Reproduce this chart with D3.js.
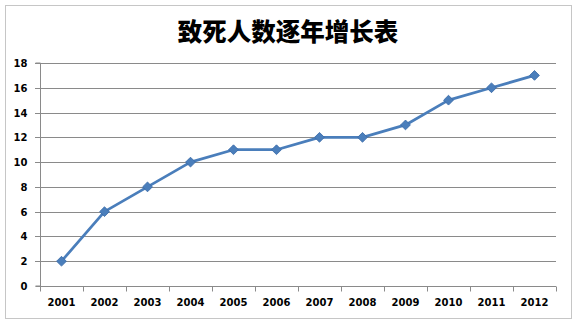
<!DOCTYPE html>
<html>
<head>
<meta charset="utf-8">
<script src="https://cdn.jsdelivr.net/npm/d3@7"></script>
<style>
  body { margin: 0; background: #fff; }
  svg { display: block; }
</style>
</head>
<body>
<svg width="577" height="325"></svg>
<script>
const years = ["2001", "2002", "2003", "2004", "2005", "2006", "2007", "2008", "2009", "2010", "2011", "2012"];
const deaths = [2, 6, 8, 10, 11, 11, 12, 12, 13, 15, 16, 17];
const yTicks = [0, 2, 4, 6, 8, 10, 12, 14, 16, 18];
const title = "致死人数逐年增长表";

const svg = d3.select("svg");
const margin = { left: 40, right: 21, top: 63, bottom: 39 };
const W = 577, H = 325;

// chart border
svg.append("rect")
  .attr("x", 5.5).attr("y", 5.5)
  .attr("width", 566).attr("height", 313)
  .attr("fill", "#fff")
  .attr("stroke", "#8c8c8c")
  .attr("stroke-dasharray", "1,1");

svg.append("text")
  .attr("x", 288).attr("y", 41)
  .attr("text-anchor", "middle")
  .attr("font-family", "Noto Sans CJK SC")
  .attr("font-weight", 900)
  .attr("font-size", 24.5)
  .attr("fill", "#000")
  .text(title);

const x = d3.scaleBand().domain(years)
  .range([margin.left, W - margin.right]);
const y = d3.scaleLinear().domain([0, 18])
  .range([H - margin.bottom, margin.top]);

// gridlines
svg.append("g")
  .selectAll("line")
  .data(yTicks.filter(d => d > 0))
  .join("line")
  .attr("x1", margin.left - 5).attr("x2", W - margin.right)
  .attr("y1", d => Math.round(y(d)) + 0.5).attr("y2", d => Math.round(y(d)) + 0.5)
  .attr("stroke", "#8a8a8a");

// y axis
const yAxis = svg.append("g")
  .attr("transform", `translate(${margin.left + 0.5},0)`)
  .call(d3.axisLeft(y).tickValues(yTicks).tickSize(5).tickPadding(8).tickFormat(d3.format("d")));
yAxis.select(".domain").attr("stroke", "#8a8a8a").attr("d", `M-5,${y(0)}H0V${y(18)}H-5`);
yAxis.selectAll(".tick line").attr("stroke", "#8a8a8a");
yAxis.selectAll(".tick").attr("transform", d => `translate(0,${Math.round(y(d)) + 0.5})`);
yAxis.selectAll("text")
  .attr("font-family", "DejaVu Sans").attr("font-weight", "bold")
  .attr("font-size", 10).attr("fill", "#000");

// x axis
const xAxis = svg.append("g")
  .attr("transform", `translate(0,${Math.round(y(0)) + 0.5})`)
  .call(d3.axisBottom(x).tickSize(0).tickPadding(12));
xAxis.select(".domain").attr("stroke", "#8a8a8a")
  .attr("d", `M${margin.left},0H${W - margin.right}`);
xAxis.selectAll("text")
  .attr("font-family", "DejaVu Sans").attr("font-weight", "bold")
  .attr("font-size", 10).attr("fill", "#000");
xAxis.append("g")
  .selectAll("line")
  .data(d3.range(years.length + 1))
  .join("line")
  .attr("x1", i => Math.round(margin.left + i * x.step()) + 0.5)
  .attr("x2", i => Math.round(margin.left + i * x.step()) + 0.5)
  .attr("y1", 0).attr("y2", 5)
  .attr("stroke", "#8a8a8a");

// line
const line = d3.line()
  .x((d, i) => x(years[i]) + x.bandwidth() / 2)
  .y(d => y(d));

svg.append("path")
  .datum(deaths)
  .attr("d", line)
  .attr("fill", "none")
  .attr("stroke", "#4a7ebb")
  .attr("stroke-width", 2.75)
  .attr("stroke-linejoin", "round");

svg.append("g")
  .selectAll("path")
  .data(deaths)
  .join("path")
  .attr("d", d3.symbol(d3.symbolSquare, 48))
  .attr("transform", (d, i) => `translate(${x(years[i]) + x.bandwidth() / 2},${y(d)}) rotate(45)`)
  .attr("fill", "#4a7ebb")
  .attr("stroke", "#3a6aa8")
  .attr("stroke-width", 0.8);
</script>
</body>
</html>
